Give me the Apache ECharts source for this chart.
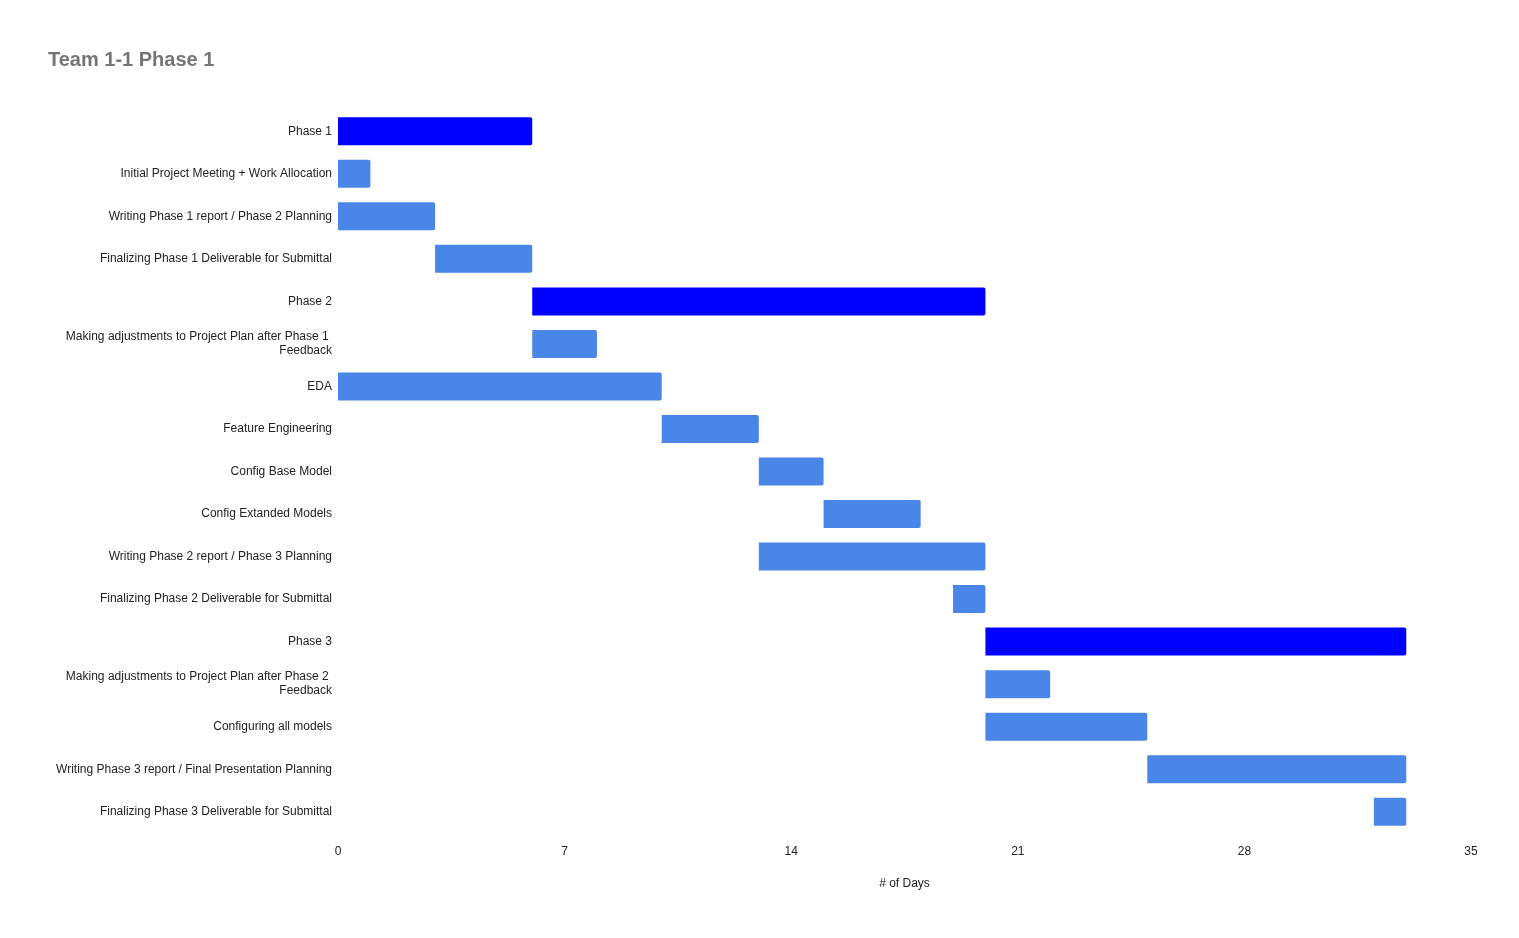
<!DOCTYPE html>
<html>
<head>
<meta charset="utf-8">
<script src="https://cdn.jsdelivr.net/npm/echarts@6/dist/echarts.min.js"></script>
<style>html,body{margin:0;padding:0;background:#fff}#c{width:1519px;height:938px}</style>
</head>
<body>
<div id="c"></div>
<script>
const tasks = [
  'Phase 1',
  'Initial Project Meeting + Work Allocation',
  'Writing Phase 1 report / Phase 2 Planning',
  'Finalizing Phase 1 Deliverable for Submittal',
  'Phase 2',
  'Making adjustments to Project Plan after Phase 1 Feedback',
  'EDA',
  'Feature Engineering',
  'Config Base Model',
  'Config Extanded Models',
  'Writing Phase 2 report / Phase 3 Planning',
  'Finalizing Phase 2 Deliverable for Submittal',
  'Phase 3',
  'Making adjustments to Project Plan after Phase 2 Feedback',
  'Configuring all models',
  'Writing Phase 3 report / Final Presentation Planning',
  'Finalizing Phase 3 Deliverable for Submittal'
];
const startDay = [0, 0, 0, 3, 6, 6, 0, 10, 13, 15, 13, 19, 20, 20, 20, 25, 32];
const duration = [6, 1, 3, 3, 14, 2, 10, 3, 2, 3, 7, 1, 13, 2, 5, 8, 1];
const isPhase = [1, 0, 0, 0, 1, 0, 0, 0, 0, 0, 0, 0, 1, 0, 0, 0, 0];
const xTicks = [0, 7, 14, 21, 28, 35];

const chart = echarts.init(document.getElementById('c'));
chart.setOption({
  backgroundColor: '#ffffff',
  animation: false,
  textStyle: { fontFamily: 'Liberation Sans, Arial, sans-serif' },
  title: {
    text: 'Team 1-1 Phase 1',
    left: 43, top: 45,
    textStyle: { fontSize: 20, fontWeight: 'bold', color: '#757575', fontFamily: 'Liberation Sans, Arial, sans-serif' }
  },
  grid: { left: 338, right: 48, top: 110, bottom: 105 },
  xAxis: {
    type: 'value', min: xTicks[0], max: xTicks[xTicks.length - 1], interval: 7,
    name: '# of Days', nameLocation: 'middle', nameGap: 45,
    nameTextStyle: { fontSize: 12, color: '#222222' },
    axisLine: { show: false }, axisTick: { show: false }, splitLine: { show: false },
    axisLabel: { fontSize: 12, color: '#222222', margin: 13 }
  },
  yAxis: {
    type: 'category', data: tasks, inverse: true,
    axisLine: { show: false }, axisTick: { show: false },
    axisLabel: { fontSize: 12, color: '#222222', margin: 6, width: 290, overflow: 'break', lineHeight: 14 }
  },
  series: [
    {
      type: 'bar', stack: 'g', silent: true,
      itemStyle: { color: 'transparent' },
      data: startDay, barWidth: 28
    },
    {
      type: 'bar', stack: 'g', barWidth: 28,
      data: duration.map((d, i) => ({
        value: d,
        itemStyle: { color: isPhase[i] ? '#0000ff' : '#4a86e8', borderRadius: [0, 2, 2, 0] }
      }))
    }
  ]
});
</script>
</body>
</html>
